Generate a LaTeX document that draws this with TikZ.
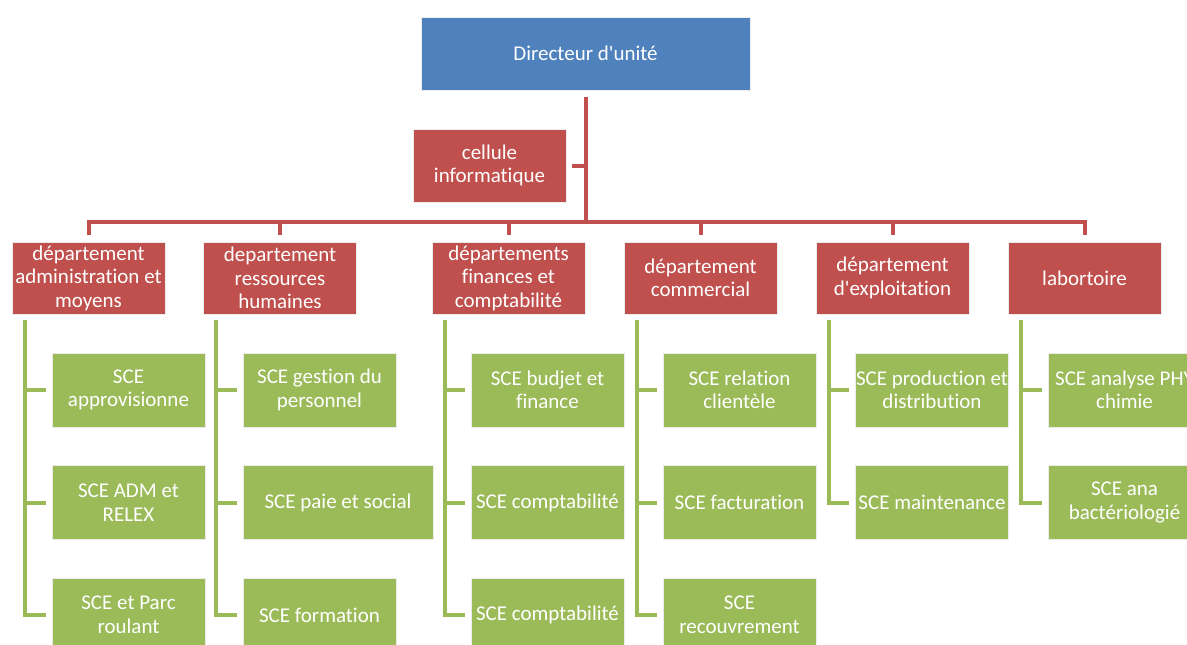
\documentclass[tikz,border=0pt]{standalone}
\usepackage{fontspec}
\setmainfont[Ligatures={NoCommon}]{Carlito}
\definecolor{cblue}{HTML}{4F81BD}
\definecolor{cred}{HTML}{C0504D}
\definecolor{cgreen}{HTML}{9BBB59}
\newcommand{\cl}[1]{\makebox[0pt][c]{#1}}
\begin{document}
\begin{tikzpicture}[x=1pt,y=-1pt,
  box/.style={rectangle, draw=white!85!gray, line width=0.8pt, text=white, align=center, inner sep=0pt,
    font=\fontsize{21}{23.5}\selectfont},
  topbox/.style={box, fill=cblue, minimum width=329pt, minimum height=73pt},
  dept/.style={box, fill=cred, minimum width=153pt, minimum height=72pt},
  sce/.style={box, fill=cgreen, minimum width=153pt, minimum height=74pt},
  redline/.style={draw=cred, line width=4pt},
  greenline/.style={draw=cgreen, line width=4pt, shorten <=6pt, shorten >=6pt}]
\fill[white] (0,0) rectangle (1187,645);
\clip (0,0) rectangle (1187,645);
\useasboundingbox (0,0) rectangle (1187,645);

% top
\node[topbox] (dir) at (585.5,53.5) {\cl{Directeur d\textquotesingle unité}};
\node[dept, minimum height=73pt] (cell) at (489.5,165.5) {\cl{cellule}\\\cl{informatique}};
\coordinate (bar) at (0,222);

% departments
\node[dept] (d1) at (88.5,278) {\cl{département}\\\cl{administration et}\\\cl{moyens}};
\node[dept] (d2) at (280,278) {\cl{departement}\\\cl{ressources}\\\cl{humaines}};
\node[dept] (d3) at (508.5,278) {\cl{départements}\\\cl{finances et}\\\cl{comptabilité}};
\node[dept] (d4) at (700.5,278) {\cl{département}\\\cl{commercial}};
\node[dept] (d5) at (892.5,278) {\cl{département}\\\cl{d\textquotesingle exploitation}};
\node[dept] (d6) at (1084.5,278) {\cl{labortoire}};

% red connectors
\draw[redline, shorten <=7pt] (dir.south) -- (dir.south |- bar);
\draw[redline, shorten <=6pt] (cell.east) -- (cell.east -| dir.south);
\foreach \d in {d1,d2,d3,d4,d5,d6}
  \draw[redline, shorten >=7pt] (dir.south |- bar) -| (\d.north);

% services
\node[sce] (s11) at (128.5,390) {\cl{SCE}\\\cl{approvisionne}};
\node[sce] (s12) at (128.5,502.5) {\cl{SCE ADM et}\\\cl{RELEX}};
\node[sce] (s13) at (128.5,615) {\cl{SCE et Parc}\\\cl{roulant}};

\node[sce] (s21) at (319.5,390) {\cl{SCE gestion du}\\\cl{personnel}};
\node[sce, minimum width=190pt] (s22) at (338,502.5) {\cl{SCE paie et social}};
\node[sce] (s23) at (319.5,615) {\cl{SCE formation}};

\node[sce] (s31) at (547.5,390) {\cl{SCE budjet et}\\\cl{finance}};
\node[sce] (s32) at (547.5,502.5) {\cl{SCE comptabilité}};
\node[sce] (s33) at (547.5,615) {\cl{SCE comptabilité}};

\node[sce] (s41) at (739.5,390) {\cl{SCE relation}\\\cl{clientèle}};
\node[sce] (s42) at (739.5,502.5) {\cl{SCE facturation}};
\node[sce] (s43) at (739.5,615) {\cl{SCE}\\\cl{recouvrement}};

\node[sce] (s51) at (932,390) {\cl{SCE production et}\\\cl{distribution}};
\node[sce] (s52) at (932,502.5) {\cl{SCE maintenance}};

\node[sce] (s61) at (1124.5,390) {\cl{SCE analyse PHY}\\\cl{chimie}};
\node[sce] (s62) at (1124.5,502.5) {\cl{SCE ana}\\\cl{bactériologié}};

% green connectors
\foreach \d/\s in {d1/s11,d1/s12,d1/s13,d2/s21,d2/s22,d2/s23,d3/s31,d3/s32,d3/s33,
                   d4/s41,d4/s42,d4/s43,d5/s51,d5/s52,d6/s61,d6/s62}
  \draw[greenline] ([xshift=13pt]\d.south west) |- (\s.west);
\end{tikzpicture}
\end{document}
